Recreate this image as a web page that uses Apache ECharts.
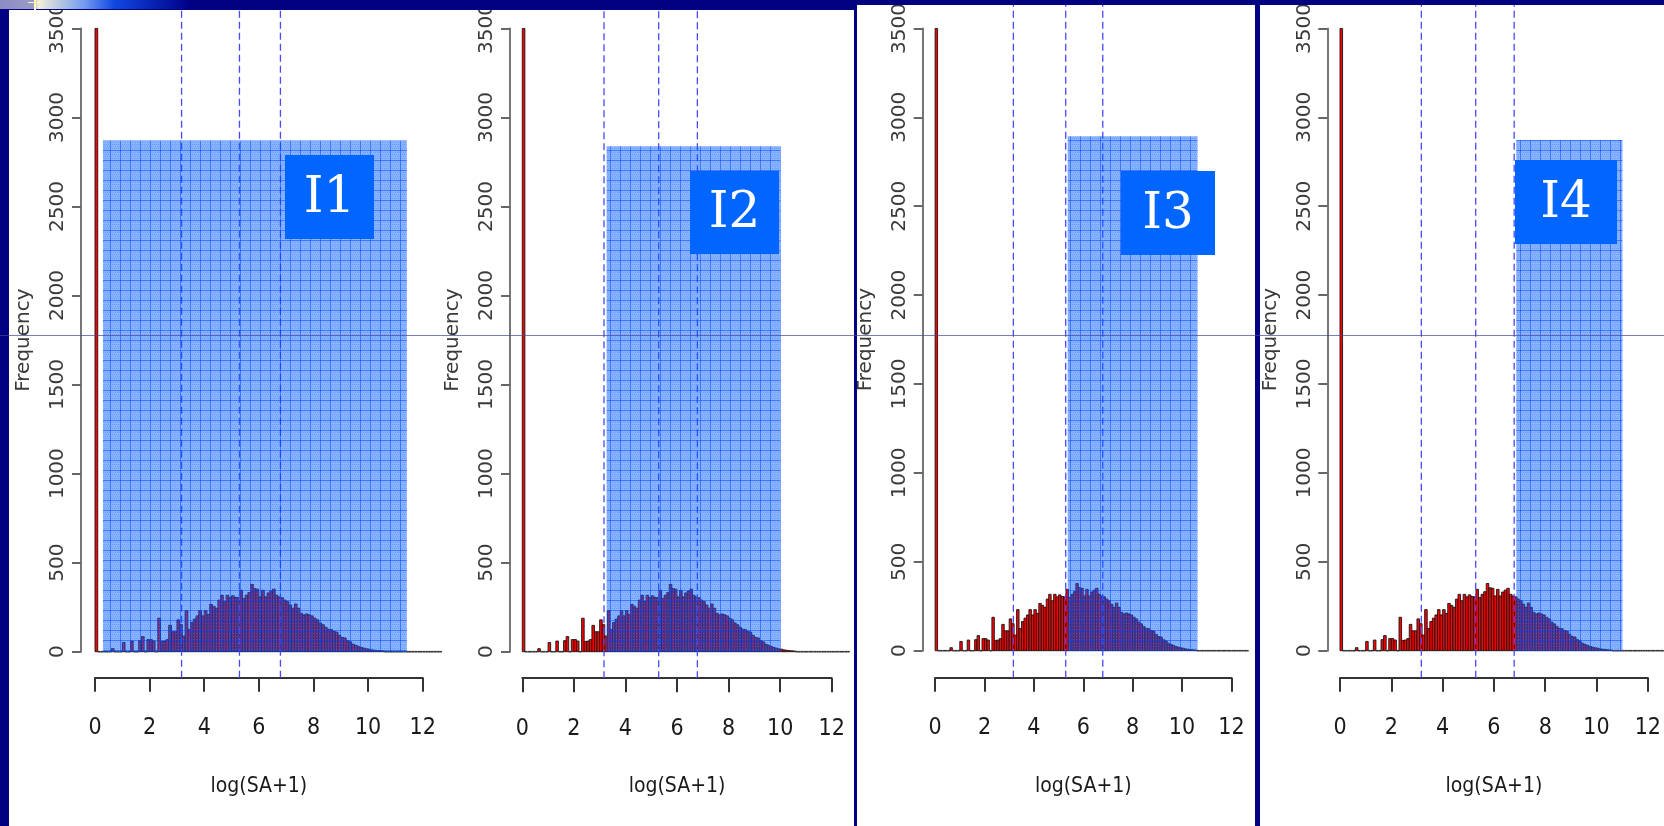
<!DOCTYPE html>
<html>
<head>
<meta charset="utf-8">
<script src="https://cdn.jsdelivr.net/npm/echarts/dist/echarts.min.js"></script>
<style>
html,body{margin:0;padding:0;background:#000080;}
#chart{width:1664px;height:826px;}
</style>
</head>
<body>
<div id="chart"></div>
<script>
// ---- DATA ----
// histogram counts, one per bin of width 0.1 starting at 0 (log(SA+1))
const binStart = 0;
const binWidth = 0.1;
const counts = [
  3500,0,0,0,0,0,17,0,0,0,
  52,0,0,60,0,0,62,85,0,68,
  68,60,0,188,58,60,68,148,112,112,
  179,152,88,231,125,164,183,201,231,201,
  231,210,266,255,244,290,317,281,317,303,
  314,305,303,345,299,317,332,378,354,351,
  308,345,308,330,341,351,317,308,303,290,
  281,262,244,268,244,216,207,212,207,201,
  188,179,161,151,137,126,124,114,110,92,
  80,77,62,55,42,36,30,24,20,16,
  14,10,8,6,5,4,0,0,0,0,
  0,0,0,0,0,0,0,0,0,0,
  0,0,0,0,0,0,0
];
// dashed reference lines (quartiles of log(SA+1))
const refLines = [3.17, 5.29, 6.79];
// highlighted intervals
const intervalNames = ['I1', 'I2', 'I3', 'I4'];
const intervalFrom = [0.29, 3.27, 5.37, 6.87];
const intervalTo = [11.42, 10.02, 10.63, 11.01];
const intervalTop = [2871, 2838, 2894, 2872];
// axes
const xMin = 0, xMax = 12, xStep = 2;
const yMin = 0, yMax = 3500, yStep = 500;
const xTitle = 'log(SA+1)';
const yTitle = 'Frequency';

// ---- LAYOUT ----
const panels = [
  {left: 95,    top: 23,   width: 327.7, height: 628.7, yOff: 14,   xOff: 26,   box: [285, 155, 89, 84]},
  {left: 522.3, top: 23,   width: 309.4, height: 628.7, yOff: 12.3, xOff: 26.5, box: [690, 171, 89, 83]},
  {left: 935.1, top: 18.3, width: 296.3, height: 632.4, yOff: 12.4, xOff: 27,   box: [1121, 171, 94, 84]},
  {left: 1340,  top: 18.3, width: 308.5, height: 632.4, yOff: 12.7, xOff: 27,   box: [1515, 160, 102, 84]}
];

// hatch pattern for the highlighted interval
function makePattern() {
  const c = document.createElement('canvas');
  c.width = 10; c.height = 10;
  const g = c.getContext('2d');
  g.fillStyle = 'rgba(0,92,255,0.47)';
  g.fillRect(0, 0, 10, 10);
  g.fillStyle = 'rgba(0,70,255,0.55)';
  g.fillRect(0, 0, 10, 1);
  g.fillRect(0, 0, 1, 10);
  g.fillStyle = 'rgba(0,80,255,0.22)';
  for (let y = 2; y < 10; y += 2) for (let x = 2; x < 10; x += 2) g.fillRect(x + (y % 4 ? 1 : 0), y, 1, 1);
  g.fillStyle = 'rgba(255,255,255,0.12)';
  for (let y = 3; y < 10; y += 3) for (let x = 3; x < 10; x += 3) g.fillRect(x, y, 1, 1);
  return c;
}
const pattern = makePattern();

const binData = counts.map((c, i) => [binStart + i * binWidth, binStart + (i + 1) * binWidth, c]);

const grids = [], xAxes = [], yAxes = [], series = [], graphics = [];
const labelFontX = "'Liberation Sans Narrow','DejaVu Sans Condensed','Arial Narrow','Liberation Sans',sans-serif";

panels.forEach((p, i) => {
  grids.push({left: p.left, top: p.top, width: p.width, height: p.height, containLabel: false});
  xAxes.push({
    gridIndex: i, type: 'value', min: xMin, max: xMax, interval: xStep,
    position: 'bottom', offset: p.xOff,
    axisLine: {show: true, onZero: false, lineStyle: {color: '#333', width: 2}},
    axisTick: {show: true, length: 14, lineStyle: {color: '#333', width: 2}},
    axisLabel: {show: true, margin: 39, fontSize: 23, color: '#1a1a1a', fontFamily: labelFontX},
    splitLine: {show: false},
    name: xTitle, nameLocation: 'middle', nameGap: 98,
    nameTextStyle: {fontSize: 21, color: '#1a1a1a', fontFamily: labelFontX}
  });
  yAxes.push({
    gridIndex: i, type: 'value', min: yMin, max: yMax, interval: yStep,
    position: 'left', offset: p.yOff,
    axisLine: {show: true, onZero: false, lineStyle: {color: '#777', width: 2}},
    axisTick: {show: true, length: 9, lineStyle: {color: '#666', width: 2}},
    axisLabel: {show: true, rotate: 90, margin: 13, fontSize: 20, color: '#3a3a3a', fontFamily: 'DejaVu Sans',
                formatter: v => String(v)},
    splitLine: {show: false},
    name: yTitle, nameLocation: 'middle', nameRotate: 90, nameGap: 47,
    nameTextStyle: {fontSize: 20, color: '#3a3a3a', fontFamily: 'DejaVu Sans'}
  });
  // histogram bars
  series.push({
    type: 'custom', xAxisIndex: i, yAxisIndex: i, z: 2, clip: false, silent: true,
    data: binData,
    renderItem: function (params, api) {
      const x0 = api.value(0), x1 = api.value(1), c = api.value(2);
      const a = api.coord([x0, 0]), b = api.coord([x1, c]);
      if (c === 0) {
        return {type: 'line', shape: {x1: a[0], y1: a[1], x2: b[0], y2: a[1]},
                style: {stroke: '#333', lineWidth: 1.6}};
      }
      return {type: 'rect', shape: {x: a[0], y: b[1], width: b[0] - a[0], height: a[1] - b[1]},
              style: {fill: '#ff0000', stroke: '#151515', lineWidth: 0.9}};
    }
  });
  // dashed reference lines
  series.push({
    type: 'custom', xAxisIndex: i, yAxisIndex: i, z: 3, clip: false, silent: true,
    data: refLines.map(v => [v]),
    renderItem: function (params, api) {
      const a = api.coord([api.value(0), 0]);
      return {type: 'line', shape: {x1: a[0], y1: a[1] + p.xOff, x2: a[0], y2: 0},
              style: {stroke: '#4848ff', lineWidth: 1.3, lineDash: [7, 4]}};
    }
  });
  // highlighted interval
  series.push({
    type: 'custom', xAxisIndex: i, yAxisIndex: i, z: 4, clip: false, silent: true,
    data: [[intervalFrom[i], intervalTo[i], intervalTop[i]]],
    renderItem: function (params, api) {
      const a = api.coord([api.value(0), 0]), b = api.coord([api.value(1), api.value(2)]);
      return {type: 'rect', shape: {x: a[0], y: b[1], width: b[0] - a[0], height: a[1] - b[1]},
              style: {fill: {image: pattern, repeat: 'repeat'}}};
    }
  });
  // interval name box
  const bx = p.box;
  graphics.push({type: 'rect', z: 50, shape: {x: bx[0], y: bx[1], width: bx[2], height: bx[3]},
                 style: {fill: '#0066ff'}});
  graphics.push({type: 'text', z: 51, x: bx[0] + bx[2] / 2, y: bx[1] + bx[3] / 2 + 2,
                 style: {text: intervalNames[i], fill: '#ffffff', font: "50px 'DejaVu Serif'",
                         align: 'center', verticalAlign: 'middle', textAlign: 'center', textVerticalAlign: 'middle'}});
});

// slide frame
const navy = '#000080';
const frame = [
  {type: 'rect', z: -10, shape: {x: 9, y: 10, width: 845, height: 816}, style: {fill: '#ffffff'}},
  {type: 'rect', z: -10, shape: {x: 857, y: 5, width: 398, height: 821}, style: {fill: '#ffffff'}},
  {type: 'rect', z: -10, shape: {x: 1260, y: 5, width: 404, height: 821}, style: {fill: '#ffffff'}},
  {type: 'rect', z: 100, shape: {x: 0, y: 0, width: 857, height: 10}, style: {fill: navy}},
  {type: 'rect', z: 100, shape: {x: 857, y: 0, width: 807, height: 5}, style: {fill: navy}},
  {type: 'rect', z: 100, shape: {x: 0, y: 0, width: 9, height: 826}, style: {fill: navy}},
  {type: 'rect', z: 100, shape: {x: 854, y: 0, width: 3, height: 826}, style: {fill: navy}},
  {type: 'rect', z: 100, shape: {x: 1255, y: 0, width: 5, height: 826}, style: {fill: navy}},
  {type: 'rect', z: 101, shape: {x: 0, y: 0, width: 190, height: 9},
   style: {fill: new echarts.graphic.LinearGradient(0, 0, 1, 0, [
     {offset: 0, color: '#8c8cc4'}, {offset: 0.18, color: '#9a9ac8'}, {offset: 0.2, color: '#f4f0d8'},
     {offset: 0.45, color: '#6f98f0'}, {offset: 0.6, color: '#1048e0'}, {offset: 1, color: '#000088'}])}},
  {type: 'rect', z: 102, shape: {x: 34, y: 0, width: 2, height: 10}, style: {fill: '#fff6c0'}},
  {type: 'rect', z: 102, shape: {x: 28, y: 2, width: 14, height: 1}, style: {fill: '#fff6c0'}},
  {type: 'line', z: 103, shape: {x1: 0, y1: 335.5, x2: 1664, y2: 335.5},
   style: {stroke: 'rgba(70,70,150,0.7)', lineWidth: 1}}
];

const chart = echarts.init(document.getElementById('chart'), null, {renderer: 'canvas'});
chart.setOption({
  backgroundColor: navy,
  animation: false,
  grid: grids,
  xAxis: xAxes,
  yAxis: yAxes,
  series: series,
  graphic: frame.concat(graphics)
});
</script>
</body>
</html>
